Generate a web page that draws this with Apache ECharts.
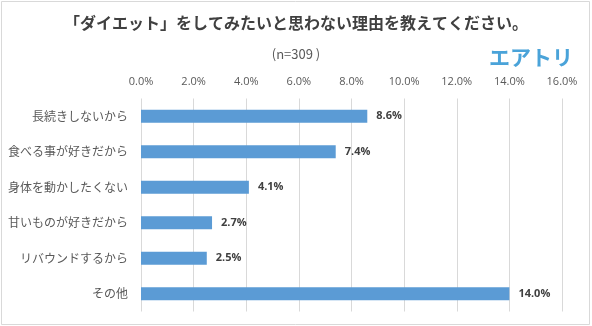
<!DOCTYPE html>
<html>
<head>
<meta charset="utf-8">
<script src="https://cdn.jsdelivr.net/npm/echarts@6/dist/echarts.min.js"></script>
<style>html,body{margin:0;padding:0;background:#fff;}#c{width:592px;height:326px;}</style>
</head>
<body>
<div id="c"></div>
<script>
const categories = ['長続きしないから', '食べる事が好きだから', '身体を動かしたくない', '甘いものが好きだから', 'リバウンドするから', 'その他'];
const values = [8.6, 7.4, 4.1, 2.7, 2.5, 14.0];
const titleText = '「ダイエット」をしてみたいと思わない理由を教えてください。';
const subtitleText = '(n=309 )';
const logoText = 'エアトリ';
const axisMin = 0, axisMax = 16, axisStep = 2;

const jp = '"Noto Sans CJK JP", "Noto Sans", sans-serif';
const chart = echarts.init(document.getElementById('c'), null, {renderer: 'canvas'});
chart.setOption({
  animation: false,
  backgroundColor: '#ffffff',
  graphic: [
    {type: 'rect', shape: {x: 1.5, y: 1.5, width: 588, height: 323}, style: {fill: 'none', stroke: '#d9d9d9', lineWidth: 1}, z: 0},
    {type: 'text', left: 'center', top: 15, style: {text: titleText, font: 'bold 16px ' + jp, fill: '#404040'}},
    {type: 'text', x: 296, y: 54, style: {text: subtitleText, font: '13px ' + jp, fill: '#595959', align: 'center', verticalAlign: 'middle'}},
    {type: 'text', x: 531, y: 57, style: {text: logoText, font: 'bold 21px ' + jp, fill: '#4aa3d9', align: 'center', verticalAlign: 'middle'}}
  ],
  grid: {left: 141, right: 30, top: 98.5, bottom: 14.5, containLabel: false},
  xAxis: {
    type: 'value', position: 'top', min: axisMin, max: axisMax, interval: axisStep,
    axisLine: {show: false}, axisTick: {show: false},
    splitLine: {show: true, lineStyle: {color: '#d9d9d9', width: 1}},
    axisLabel: {margin: 11, color: '#595959', fontSize: 11, fontFamily: '"Open Sans", sans-serif',
      formatter: v => v.toFixed(1) + '%'}
  },
  yAxis: {
    type: 'category', data: categories, inverse: true,
    axisLine: {show: false}, axisTick: {show: false},
    axisLabel: {margin: 13, color: '#595959', fontSize: 12, fontFamily: jp}
  },
  series: [{
    type: 'bar', data: values, barWidth: 13,
    itemStyle: {color: '#5b9bd5'},
    label: {show: true, position: 'right', distance: 9, color: '#404040', fontWeight: 'bold', fontSize: 11,
      fontFamily: '"Open Sans", sans-serif', formatter: p => p.value.toFixed(1) + '%'}
  }]
});
</script>
</body>
</html>
